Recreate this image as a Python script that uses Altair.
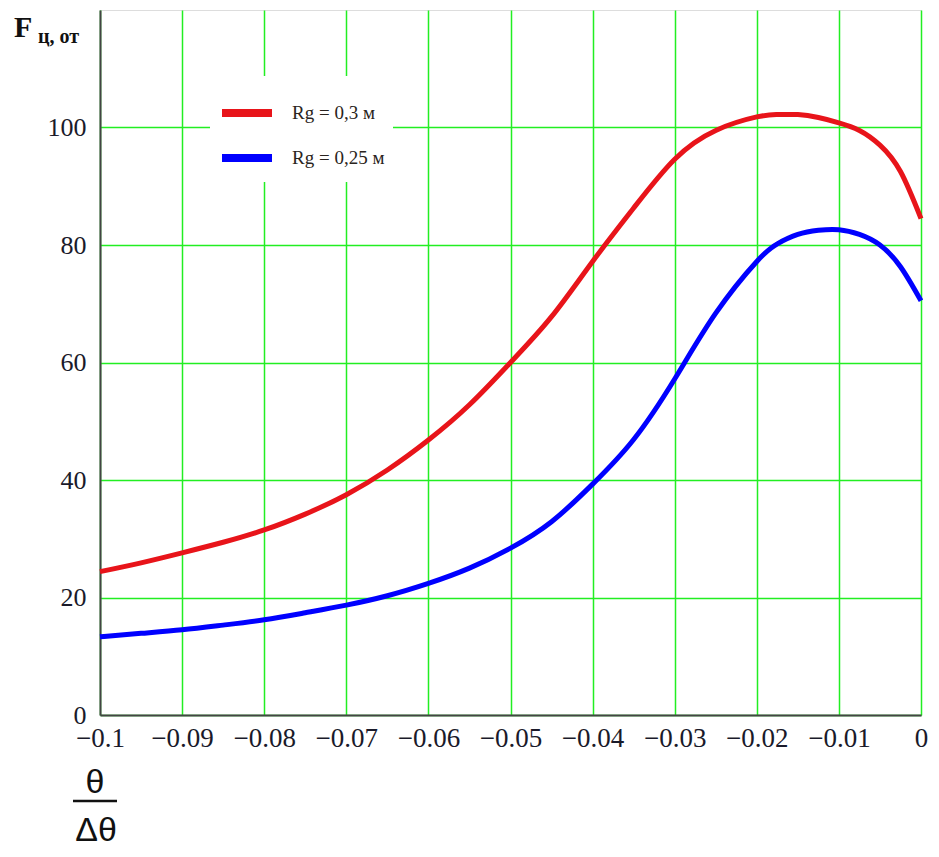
import altair as alt
import pandas as pd

# values
x_vals = [-0.1, -0.095, -0.09, -0.085, -0.08, -0.075, -0.07, -0.065, -0.06, -0.055, -0.05,
          -0.045, -0.04, -0.035, -0.03, -0.025, -0.02, -0.0175, -0.015, -0.0125, -0.01,
          -0.0075, -0.005, -0.0025, 0.0]
red = [24.4, 25.9, 27.6, 29.4, 31.5, 34.2, 37.5, 41.7, 46.8, 52.8, 60.0,
       67.8, 77.2, 86.3, 94.6, 99.5, 101.8, 102.2, 102.2, 101.7, 100.8,
       99.5, 97.0, 92.5, 84.5]
blue = [13.3, 13.9, 14.5, 15.3, 16.2, 17.4, 18.7, 20.3, 22.4, 25.0, 28.4,
        32.9, 39.3, 46.9, 57.2, 68.4, 77.2, 80.2, 81.8, 82.5, 82.6,
        81.8, 80.0, 76.3, 70.5]
series_names = ["Rg = 0,3 м", "Rg = 0,25 м"]
series_colors = ["#e8141a", "#0000ff"]
y_ticks = [0, 20, 40, 60, 80, 100]
x_ticks = [-0.1, -0.09, -0.08, -0.07, -0.06, -0.05, -0.04, -0.03, -0.02, -0.01, 0.0]

rows = []
for xv, r, b in zip(x_vals, red, blue):
    rows.append({"x": xv, "y": r, "s": series_names[0]})
    rows.append({"x": xv, "y": b, "s": series_names[1]})
df = pd.DataFrame(rows)

serif = "Liberation Serif"

lines = alt.Chart(df).mark_line(strokeWidth=5, interpolate="natural").encode(
    x=alt.X("x:Q", scale=alt.Scale(domain=[-0.1, 0], nice=False),
            axis=alt.Axis(values=x_ticks, format=".2~f", title=None, grid=True,
                          gridColor="#22ee22", gridWidth=1.5, tickSize=0,
                          labelFont=serif, labelFontSize=27, labelColor="#1a1a2a",
                          labelPadding=10, domainColor="#444", domainWidth=2,
                          labelFlush=False)),
    y=alt.Y("y:Q", scale=alt.Scale(domain=[0, 120], nice=False),
            axis=alt.Axis(values=y_ticks, title=None, grid=True,
                          gridColor="#22ee22", gridWidth=1.5, tickSize=0,
                          labelFont=serif, labelFontSize=26, labelColor="#1a1a2a",
                          labelPadding=14, domainColor="#444", domainWidth=2)),
    color=alt.Color("s:N", scale=alt.Scale(domain=series_names, range=series_colors),
                    sort=series_names,
                    legend=alt.Legend(title=None, orient="none", legendX=110, legendY=66,
                                      fillColor="white", padding=8,
                                      symbolType="stroke", symbolSize=2500,
                                      symbolStrokeWidth=8, rowPadding=-1,
                                      labelFont=serif, labelFontSize=19,
                                      labelColor="#2a2420", labelOffset=16)),
)

one = pd.DataFrame({"a": [0]})

f_main = alt.Chart(one).mark_text(text="F", font=serif, fontSize=30, fontWeight="bold",
                                   align="left", baseline="alphabetic", color="#111").encode(
    x=alt.value(-86), y=alt.value(27))
f_sub = alt.Chart(one).mark_text(text="ц, от", font=serif, fontSize=20, fontWeight="bold",
                                  align="left", baseline="alphabetic", color="#111").encode(
    x=alt.value(-62), y=alt.value(33))

num = alt.Chart(one).mark_text(text="θ", font="Liberation Sans", fontSize=34,
                                align="center", baseline="alphabetic", color="#111").encode(
    x=alt.value(-5), y=alt.value(783))
bar = alt.Chart(one).mark_rule(color="#111", strokeWidth=2.5).encode(
    x=alt.value(-27), x2=alt.value(17), y=alt.value(791))
den = alt.Chart(one).mark_text(text="Δθ", font="Liberation Sans", fontSize=34,
                                align="center", baseline="alphabetic", color="#111").encode(
    x=alt.value(-4), y=alt.value(831))

chart = alt.layer(lines, f_main, f_sub, num, bar, den).properties(
    width=821, height=705,
    autosize=alt.AutoSizeParams(type="none"),
    padding={"left": 92, "top": 2, "right": 10, "bottom": 134},
).configure_view(stroke="#444", strokeWidth=2).configure(background="white")

chart.save("out.html", embed_options={"renderer": "svg", "actions": False})
